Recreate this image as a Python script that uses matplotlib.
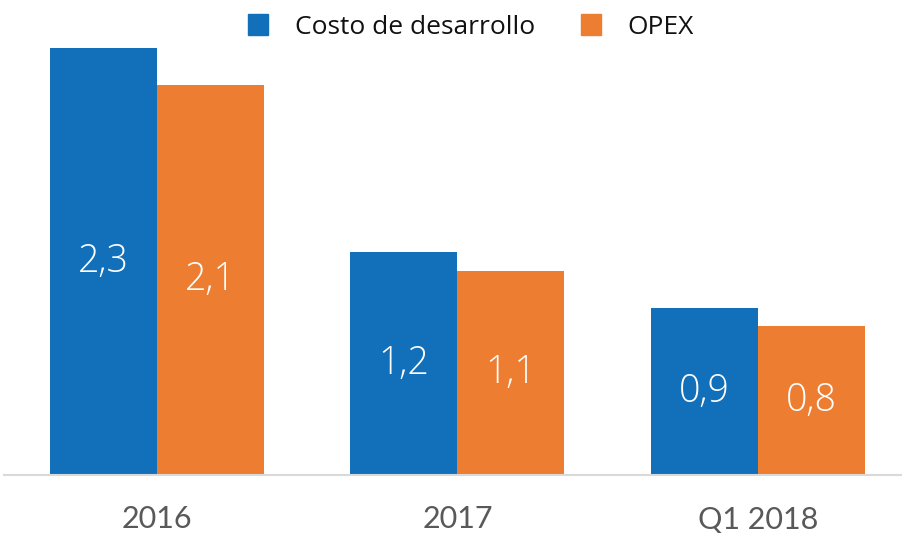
import matplotlib
matplotlib.use("Agg")
import matplotlib.pyplot as plt
from matplotlib.patches import Patch
import numpy as np

plt.rcParams['font.family'] = ['Lato', 'DejaVu Sans']

categories = ['2016', '2017', 'Q1 2018']
series_names = ['Costo de desarrollo', 'OPEX']
costo = [2.3, 1.2, 0.9]
opex = [2.1, 1.1, 0.8]
colors = ['#1170b9', '#ed7d31']

fig = plt.figure(figsize=(9.02, 5.33), dpi=100)
ax = fig.add_axes([0.0044, 0.109, 0.9956, 0.891])

x = np.arange(len(categories))
w = 0.356
for vals, off, col in [(costo, -w / 2, colors[0]), (opex, w / 2, colors[1])]:
    bars = ax.bar(x + off, vals, width=w, color=col, linewidth=0)
    for b, v in zip(bars, vals):
        ax.text(b.get_x() + b.get_width() / 2, v / 2, f"{v:.1f}".replace('.', ','),
                ha='center', va='center', color='white', fontsize=27,
                family=['Open Sans', 'DejaVu Sans'], fontweight='light')

ax.set_xlim(-0.509, 2.479)
ax.set_ylim(0, 2.558)
ax.set_xticks(x)
ax.set_xticklabels(categories, fontsize=22, color='#595959')
ax.tick_params(axis='x', length=0, pad=22)
ax.set_yticks([])
for s in ['top', 'right', 'left']:
    ax.spines[s].set_visible(False)
ax.spines['bottom'].set_color('#d9d9d9')
ax.spines['bottom'].set_linewidth(1.5)

handles = [Patch(color=c, label=n) for c, n in zip(colors, series_names)]
fig.legend(handles=handles, loc='center', bbox_to_anchor=(471 / 902, 1 - 27 / 533),
           ncol=2, frameon=False, handlelength=0.76, handleheight=0.8,
           handletextpad=1.0, columnspacing=1.75, labelcolor='#111111',
           prop={'family': ['Open Sans', 'DejaVu Sans'], 'size': 19})

fig.savefig('out.png', dpi=100)
